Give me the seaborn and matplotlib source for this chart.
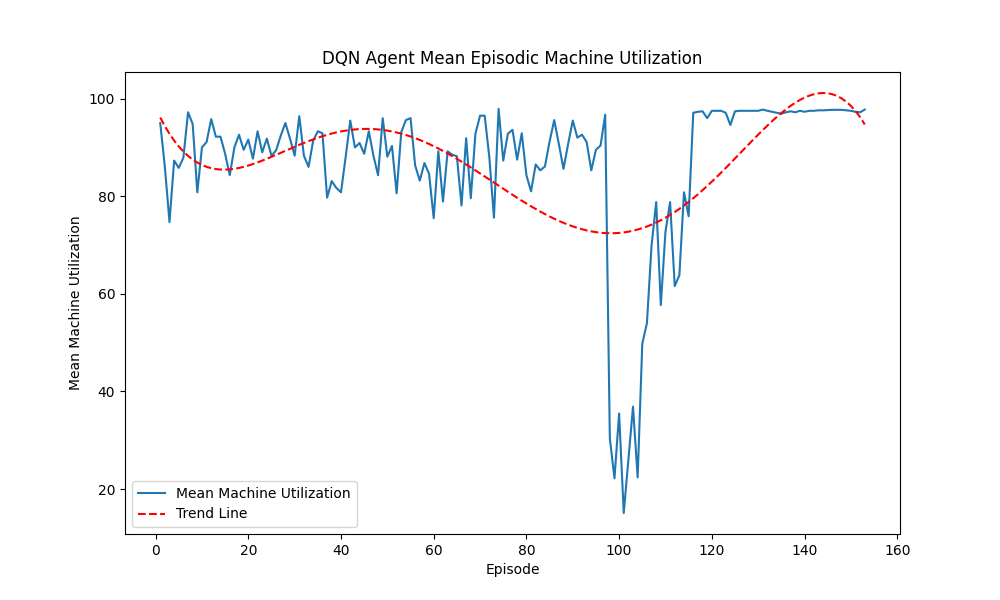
import numpy as np
import pandas as pd
import matplotlib
matplotlib.use("Agg")
import matplotlib.pyplot as plt
import seaborn as sns

episodes = list(range(1, 154))
utilization = [
    95.0, 86.0, 74.7, 87.3, 85.8, 87.9, 97.2, 94.8, 80.8, 90.0,
    91.1, 95.8, 92.2, 92.2, 88.7, 84.3, 90.0, 92.6, 89.5, 91.6,
    87.7, 93.3, 89.0, 91.8, 88.3, 89.4, 92.4, 95.0, 91.8, 88.3,
    96.4, 88.3, 86.0, 91.4, 93.3, 92.9, 79.7, 83.1, 81.7, 80.8,
    88.0, 95.5, 90.0, 90.9, 88.7, 93.3, 88.3, 84.3, 96.0, 88.1,
    90.3, 80.6, 93.1, 95.6, 96.0, 86.3, 83.2, 86.8, 84.6, 75.5,
    89.2, 78.9, 89.2, 88.5, 88.2, 78.1, 91.9, 79.6, 92.8, 96.5,
    96.5, 88.0, 75.6, 97.9, 87.3, 92.8, 93.6, 87.5, 92.9, 84.3,
    81.0, 86.5, 85.3, 86.1, 91.2, 95.6, 90.7, 85.6, 90.7, 95.5,
    92.0, 92.6, 91.1, 85.3, 89.5, 90.4, 96.7, 30.4, 22.2, 35.5,
    15.1, 26.0, 36.9, 22.4, 49.8, 54.0, 69.9, 78.8, 57.7, 72.7,
    78.8, 61.6, 63.8, 80.8, 75.9, 97.1, 97.3, 97.4, 96.0, 97.5,
    97.5, 97.5, 97.1, 94.6, 97.4, 97.5, 97.5, 97.5, 97.5, 97.5,
    97.75, 97.5, 97.3, 97.1, 96.9, 97.2, 97.4, 97.2, 97.5, 97.3,
    97.5, 97.5, 97.6, 97.6, 97.65, 97.7, 97.7, 97.7, 97.6, 97.5,
    97.3, 97.2, 97.75,
]

df = pd.DataFrame({"Episode": episodes, "Utilization": utilization})
coeffs = np.polyfit(df["Episode"], df["Utilization"], 5)
df["Trend"] = np.polyval(coeffs, df["Episode"])

fig, ax = plt.subplots(figsize=(10, 6), dpi=100)
sns.lineplot(data=df, x="Episode", y="Utilization", ax=ax,
             color="#1f77b4", linewidth=1.5, label="Mean Machine Utilization")
sns.lineplot(data=df, x="Episode", y="Trend", ax=ax,
             color="red", linestyle="--", linewidth=1.5, label="Trend Line")
ax.set_title("DQN Agent Mean Episodic Machine Utilization")
ax.set_xlabel("Episode")
ax.set_ylabel("Mean Machine Utilization")
ax.legend(loc="lower left")
fig.savefig("out.png", dpi=100)
